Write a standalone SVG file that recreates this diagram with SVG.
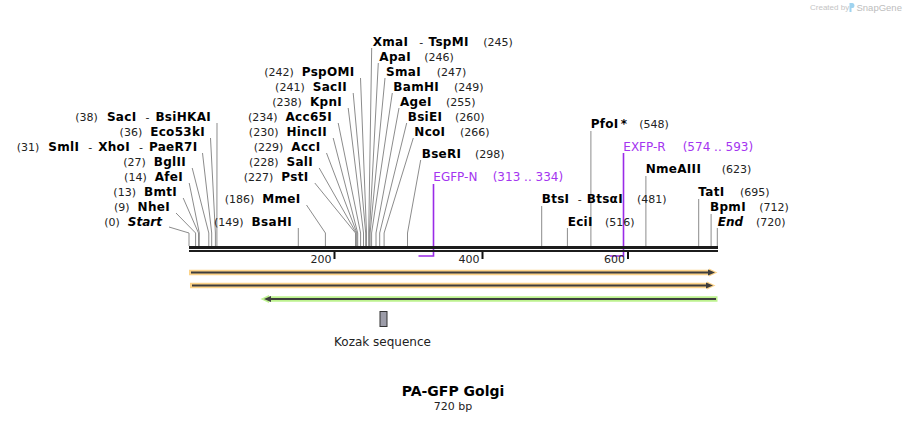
<svg xmlns="http://www.w3.org/2000/svg" width="907" height="422" viewBox="0 0 907 422">
<style>
text{font-family:"DejaVu Sans",Verdana,sans-serif;font-size:11px;fill:#222}
.b{font-weight:bold;fill:#000;font-size:12px;letter-spacing:0.3px}
.i{font-weight:bold;font-style:italic;fill:#000;font-size:12px}
.p{font-size:12px;fill:#a435f0}
.k{font-size:12px}
.t{font-size:14px;font-weight:bold;fill:#000}
.ln{stroke:#8c8c8c;stroke-width:1;fill:none}
.pr{stroke:#9a2be8;stroke-width:1.6;fill:none}
.tk{fill:#111}
.core{stroke:#3d3d3d;stroke-width:2;fill:none}
.wm1{font-family:"Liberation Sans",Arial,sans-serif;fill:#c4c4c4;font-size:8px}
.wm2{font-family:"Liberation Sans",Arial,sans-serif;fill:#bdbdbd;font-size:9.5px}
</style>
<rect width="907" height="422" fill="#fff"/>

<g id="watermark">
<text class="wm1" x="810" y="10">Created by</text>
<path d="M849.5 3 h3 q2 0 2 2.5 q0 2.5 -2 2.5 h-1 v4 h-2 z" fill="#9fd3ef"/>
<text class="wm2" x="856.5" y="10.5">SnapGene</text>
</g>

<g id="connectors">
<path class="ln" d="M169 227 L189 233 V246"/>
<path class="ln" d="M176 213 L195.6 233 V246"/>
<path class="ln" d="M183.2 198 L198.5 233 V246"/>
<path class="ln" d="M189.2 183 L199.3 233 V246"/>
<path class="ln" d="M192.2 168 L208.8 233 V246"/>
<path class="ln" d="M202.5 153 L211.7 233 V246"/>
<path class="ln" d="M210.5 138 L215.4 233 V246"/>
<path class="ln" d="M217 123 L216.9 233 V246"/>
<path class="ln" d="M298.3 228 V246"/>
<path class="ln" d="M306.5 205 L325.4 233 V246"/>
<path class="ln" d="M314.8 183 L355.5 233 V246"/>
<path class="ln" d="M319.2 168 L356.2 233 V246"/>
<path class="ln" d="M326.5 153 L356.9 233 V246"/>
<path class="ln" d="M333.2 138 L357.7 233 V246"/>
<path class="ln" d="M338.2 123 L360.6 233 V246"/>
<path class="ln" d="M348.2 108 L363.5 233 V246"/>
<path class="ln" d="M353.2 93 L365.7 233 V246"/>
<path class="ln" d="M360.5 78 L366.5 233 V246"/>
<path class="ln" d="M371.7 48 L368.7 233 V246"/>
<path class="ln" d="M378.3 63 L369.4 233 V246"/>
<path class="ln" d="M385 78 L370.1 233 V246"/>
<path class="ln" d="M392.3 93 L371.6 233 V246"/>
<path class="ln" d="M399 108 L376 233 V246"/>
<path class="ln" d="M406.7 123 L379.7 233 V246"/>
<path class="ln" d="M413.3 138 L384.1 233 V246"/>
<path class="ln" d="M420.7 160 L407.5 233 V246"/>
<path class="ln" d="M541.7 206 V246"/>
<path class="ln" d="M567.4 228 V246"/>
<path class="ln" d="M590.9 131 V246"/>
<path class="ln" d="M645.9 176 V246"/>
<path class="ln" d="M698.7 199 V246"/>
<path class="ln" d="M711.1 214 V246"/>
<path class="ln" d="M717.3 228 V246"/>
<path class="pr" d="M433.5 184 V256 H418.5"/>
<path class="pr" d="M623.5 153 V256 H609.9"/>
</g>

<g id="backbone">
<rect x="189" y="246" width="529" height="3" fill="#1c1c1c"/>
<rect x="189" y="250" width="529" height="2" fill="#1c1c1c"/>
<rect class="tk" x="333.5" y="252" width="2" height="7"/>
<rect class="tk" x="481.5" y="252" width="2" height="7"/>
<rect class="tk" x="627" y="252" width="2" height="7"/>
<text x="331.5" y="263" text-anchor="end">200</text>
<text x="479.5" y="263" text-anchor="end">400</text>
<text x="625" y="263" text-anchor="end">600</text>
</g>

<g id="feature1">
<path d="M189 269.7 H709 V268.5 L717.5 272.5 L709 276.5 V275.3 H189 Z" fill="#fcd389"/>
<path class="core" d="M191 272.5 H709"/>
<path d="M708 269.5 L715 272.5 L708 275.5 Z" fill="#3d3d3d"/>
</g>
<g id="feature2">
<path d="M190 282.7 H707 V281.5 L715.5 285.5 L707 289.5 V288.3 H190 Z" fill="#fcd389"/>
<path class="core" d="M192 285.5 H707"/>
<path d="M706 282.5 L713 285.5 L706 288.5 Z" fill="#3d3d3d"/>
</g>
<g id="feature3">
<path d="M717.5 296.2 H269 V295 L260.5 299 L269 303 V301.8 H717.5 Z" fill="#bdf28f"/>
<path class="core" d="M716 299 H270"/>
<path d="M271 296 L264 299 L271 302 Z" fill="#3d3d3d"/>
</g>

<g id="kozak">
<rect x="380" y="311.5" width="7" height="15" fill="#9c9ca8" stroke="#333" stroke-width="1"/>
<text class="k" x="382.5" y="345.5" text-anchor="middle">Kozak sequence</text>
</g>

<g id="title">
<text class="t" x="453" y="396" text-anchor="middle">PA-GFP Golgi</text>
<text x="453" y="410" text-anchor="middle">720 bp</text>
</g>

<g id="Start"><text x="162" y="226" text-anchor="end">(0)<tspan class="i" dx="8">Start</tspan></text></g>
<g id="NheI"><text x="170" y="211" text-anchor="end">(9)<tspan class="b" dx="8">NheI</tspan></text></g>
<g id="BmtI"><text x="177" y="196" text-anchor="end">(13)<tspan class="b" dx="8">BmtI</tspan></text></g>
<g id="AfeI"><text x="183" y="181" text-anchor="end">(14)<tspan class="b" dx="8">AfeI</tspan></text></g>
<g id="BglII"><text x="186" y="166" text-anchor="end">(27)<tspan class="b" dx="8">BglII</tspan></text></g>
<g id="SmlI"><text x="197.5" y="151" text-anchor="end">(31)<tspan class="b" dx="9">SmlI</tspan><tspan dx="9">-</tspan><tspan class="b" dx="6">XhoI</tspan><tspan dx="9">-</tspan><tspan class="b" dx="6">PaeR7I</tspan></text></g>
<g id="Eco53kI"><text x="205" y="136" text-anchor="end">(36)<tspan class="b" dx="8">Eco53kI</tspan></text></g>
<g id="SacI"><text x="211" y="121" text-anchor="end">(38)<tspan class="b" dx="9">SacI</tspan><tspan dx="9">-</tspan><tspan class="b" dx="6">BsiHKAI</tspan></text></g>

<g id="BsaHI"><text x="292" y="226" text-anchor="end">(149)<tspan class="b" dx="8">BsaHI</tspan></text></g>
<g id="MmeI"><text x="300.5" y="203" text-anchor="end">(186)<tspan class="b" dx="8">MmeI</tspan></text></g>
<g id="PstI"><text x="308.5" y="181" text-anchor="end">(227)<tspan class="b" dx="8">PstI</tspan></text></g>
<g id="SalI"><text x="313" y="166" text-anchor="end">(228)<tspan class="b" dx="8">SalI</tspan></text></g>
<g id="AccI"><text x="320.5" y="151" text-anchor="end">(229)<tspan class="b" dx="8">AccI</tspan></text></g>
<g id="HincII"><text x="327" y="136" text-anchor="end">(230)<tspan class="b" dx="8">HincII</tspan></text></g>
<g id="Acc65I"><text x="332" y="121" text-anchor="end">(234)<tspan class="b" dx="8">Acc65I</tspan></text></g>
<g id="KpnI"><text x="342" y="106" text-anchor="end">(238)<tspan class="b" dx="8">KpnI</tspan></text></g>
<g id="SacII"><text x="347" y="91" text-anchor="end">(241)<tspan class="b" dx="8">SacII</tspan></text></g>
<g id="PspOMI"><text x="354.5" y="76" text-anchor="end">(242)<tspan class="b" dx="8">PspOMI</tspan></text></g>

<g id="XmaI"><text class="b" x="372.7" y="46">XmaI</text><text x="419.3" y="46">-</text><text class="b" x="428.5" y="46">TspMI</text><text x="483.3" y="46">(245)</text></g>
<g id="ApaI"><text class="b" x="379.3" y="61">ApaI</text><text x="424.3" y="61">(246)</text></g>
<g id="SmaI"><text class="b" x="386" y="76">SmaI</text><text x="436.7" y="76">(247)</text></g>
<g id="BamHI"><text class="b" x="393.3" y="91">BamHI</text><text x="454" y="91">(249)</text></g>
<g id="AgeI"><text class="b" x="400" y="106">AgeI</text><text x="446" y="106">(255)</text></g>
<g id="BsiEI"><text class="b" x="407.7" y="121">BsiEI</text><text x="455" y="121">(260)</text></g>
<g id="NcoI"><text class="b" x="414.3" y="136">NcoI</text><text x="460" y="136">(266)</text></g>
<g id="BseRI"><text class="b" x="421.7" y="158">BseRI</text><text x="475" y="158">(298)</text></g>

<g id="EGFP-N"><text class="p" x="433.3" y="181">EGFP-N</text><text class="p" x="492.7" y="181">(313 .. 334)</text></g>
<g id="EXFP-R"><text class="p" x="623.3" y="151">EXFP-R</text><text class="p" x="682.7" y="151">(574 .. 593)</text></g>

<g id="BtsI"><text class="b" x="541.7" y="203">BtsI</text><text x="577.7" y="203">-</text><text class="b" x="586.7" y="203">BtsαI</text><text x="637" y="203">(481)</text></g>
<g id="EciI"><text class="b" x="567.7" y="226">EciI</text><text x="605" y="226">(516)</text></g>
<g id="PfoI"><text class="b" x="590.7" y="128">PfoI</text><text class="b" x="620.7" y="128">*</text><text x="639.3" y="128">(548)</text></g>
<g id="NmeAIII"><text class="b" x="645.7" y="173">NmeAIII</text><text x="721.7" y="173">(623)</text></g>
<g id="TatI"><text class="b" x="698.3" y="196">TatI</text><text x="740" y="196">(695)</text></g>
<g id="BpmI"><text class="b" x="710" y="211">BpmI</text><text x="759.3" y="211">(712)</text></g>
<g id="End"><text class="i" x="717.7" y="226">End</text><text x="756" y="226">(720)</text></g>
</svg>
